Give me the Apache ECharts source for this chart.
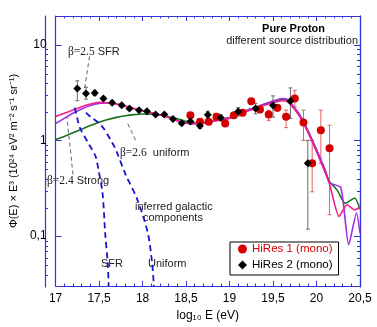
<!DOCTYPE html>
<html>
<head>
<meta charset="utf-8">
<script src="https://cdn.jsdelivr.net/npm/echarts@6/dist/echarts.min.js"></script>
<style>
  html, body { margin: 0; padding: 0; background: #fff; }
  #chart { width: 377px; height: 327px; }
</style>
</head>
<body>
<div id="chart"></div>
<script>
// ---- data (log10 E in eV, flux x E^3 in 10^24 eV^2 m^-2 s^-1 sr^-1) ----

// HiRes 1 (mono) - red circles
const hires1E = [18.55, 18.66, 18.76, 18.85, 18.95, 19.05, 19.15, 19.25, 19.35, 19.45, 19.55, 19.65, 19.75, 19.85, 19.95, 20.05, 20.15];
const hires1V = [1.83, 1.57, 1.57, 1.77, 1.50, 1.83, 1.95, 2.57, 2.10, 1.87, 2.19, 1.77, 2.74, 1.54, 0.576, 1.28, 0.826];
const hires1Lo = [1.74, 1.49, 1.49, 1.68, 1.42, 1.74, 1.84, 2.40, 1.95, 1.62, 2.02, 1.36, 2.24, 1.00, 0.29, 0.576, 0.167];
const hires1Hi = [1.92, 1.65, 1.65, 1.86, 1.58, 1.92, 2.06, 2.74, 2.25, 2.07, 2.36, 2.07, 3.34, 2.07, 1.00, 2.07, 1.44];

// HiRes 2 (mono) - black diamonds
const hires2E = [17.25, 17.35, 17.45, 17.55, 17.65, 17.76, 17.85, 17.96, 18.05, 18.15, 18.25, 18.35, 18.45, 18.55, 18.66, 18.75, 18.90, 19.10, 19.30, 19.50, 19.70, 19.90];
const hires2V = [3.48, 3.09, 3.14, 2.74, 2.47, 2.33, 2.15, 2.07, 2.02, 1.87, 1.87, 1.67, 1.51, 1.58, 1.42, 1.86, 1.72, 2.00, 2.15, 2.32, 2.59, 0.576];
const hires2Lo = [2.60, 2.70, 2.95, 2.62, 2.37, 2.24, 2.07, 1.99, 1.94, 1.80, 1.80, 1.60, 1.45, 1.52, 1.33, 1.72, 1.60, 1.80, 1.90, 1.75, 1.70, 0.118];
const hires2Hi = [4.20, 3.60, 3.35, 2.86, 2.57, 2.42, 2.23, 2.15, 2.10, 1.94, 1.94, 1.74, 1.57, 1.64, 1.52, 2.02, 1.85, 2.20, 2.45, 2.92, 3.54, 1.00];

// model curves
const sfrE = [17.0, 17.1, 17.2, 17.3, 17.4, 17.5, 17.6, 17.7, 17.8, 17.9, 18.0, 18.1, 18.2, 18.3, 18.4, 18.5, 18.6, 18.7, 18.8, 18.9, 19.0, 19.1, 19.2, 19.3, 19.4, 19.5, 19.6, 19.65, 19.7, 19.8, 19.9, 20.0, 20.1, 20.15, 20.26, 20.35, 20.44, 20.5];
const sfrV = [1.78, 1.92, 2.08, 2.25, 2.40, 2.50, 2.48, 2.40, 2.28, 2.15, 2.04, 1.94, 1.85, 1.74, 1.60, 1.51, 1.49, 1.52, 1.58, 1.64, 1.70, 1.86, 2.02, 2.16, 2.33, 2.48, 2.60, 2.58, 2.38, 1.82, 1.22, 0.76, 0.46, 0.35, 0.16, 0.212, 0.188, 0.20];

const strongE = [17.0, 17.1, 17.2, 17.3, 17.4, 17.5, 17.6, 17.7, 17.8, 17.9, 18.0, 18.1, 18.2, 18.3, 18.4, 18.5, 18.6, 18.7, 18.8, 18.9, 19.0, 19.1, 19.2, 19.3, 19.4, 19.5, 19.6, 19.65, 19.7, 19.8, 19.9, 20.0, 20.1, 20.15, 20.28, 20.37, 20.46, 20.5];
const strongV = [1.50, 1.70, 1.92, 2.13, 2.32, 2.44, 2.46, 2.40, 2.29, 2.16, 2.05, 1.95, 1.85, 1.74, 1.61, 1.52, 1.50, 1.53, 1.60, 1.66, 1.73, 1.90, 2.07, 2.22, 2.40, 2.58, 2.74, 2.72, 2.48, 1.90, 1.28, 0.80, 0.49, 0.36, 0.32, 0.081, 0.174, 0.107];

const uniformE = [17.0, 17.1, 17.2, 17.3, 17.4, 17.5, 17.6, 17.7, 17.8, 17.9, 18.0, 18.1, 18.2, 18.3, 18.4, 18.5, 18.6, 18.7, 18.8, 18.9, 19.0, 19.1, 19.2, 19.3, 19.4, 19.5, 19.6, 19.65, 19.7, 19.8, 19.9, 20.0, 20.1, 20.15, 20.24, 20.33, 20.44, 20.5];
const uniformV = [1.02, 1.10, 1.20, 1.31, 1.43, 1.55, 1.65, 1.74, 1.81, 1.86, 1.89, 1.88, 1.84, 1.77, 1.68, 1.58, 1.53, 1.54, 1.60, 1.66, 1.72, 1.88, 2.05, 2.20, 2.38, 2.55, 2.68, 2.66, 2.44, 1.86, 1.26, 0.79, 0.48, 0.37, 0.30, 0.22, 0.25, 0.19];

// inferred galactic components (blue dashed)
const galSfrE = [17.22, 17.25, 17.28, 17.39, 17.46, 17.49, 17.54, 17.57, 17.60, 17.61];
const galSfrV = [2.20, 1.70, 1.35, 0.89, 0.68, 0.51, 0.28, 0.107, 0.052, 0.03];
const galUniE = [17.35, 17.39, 17.53, 17.65, 17.70, 17.80, 17.94, 18.06, 18.11, 18.13];
const galUniV = [1.95, 1.80, 1.42, 0.95, 0.77, 0.45, 0.24, 0.108, 0.052, 0.03];

// annotation leader lines
const leadSfrE = [17.39, 17.33];
const leadSfrV = [7.55, 3.3];
const leadStrongE = [17.20, 17.13];
const leadStrongV = [0.44, 1.76];
const leadUniE = [17.83, 17.93];
const leadUniV = [1.49, 0.96];

// axes
const xMin = 17, xMax = 20.5;
const yMin = 0.03, yMax = 20;
const yTickValues = [0.1, 1, 10];
const yTickLabels = ['0,1', '1', '10'];

// ---- helpers ----
const lg = (v) => Math.log10(v);
const pairs = (xs, ys) => xs.map((x, i) => [x, lg(ys[i])]);
const errRows = (xs, lo, hi) => xs.map((x, i) => [x, lg(lo[i]), lg(hi[i])]);

const yMinorTicks = [];
for (let d = -2; d <= 1; d++) {
  for (let k = 2; k <= 9; k++) {
    const v = k * Math.pow(10, d);
    if (v > yMin && v < yMax) yMinorTicks.push(lg(v));
  }
}

const AXIS_BLUE = '#3434d8';
const FONT = 'Liberation Sans, Arial, Helvetica, sans-serif';
const SERIF = 'Liberation Serif, Times New Roman, serif';
const GRID = { left: 45, right: 17, top: 16, bottom: 40 };

const chart = echarts.init(document.getElementById('chart'));

function errBar(color) {
  return function (params, api) {
    const x = api.value(0);
    const top = api.coord([x, api.value(2)]);
    const bot = api.coord([x, api.value(1)]);
    const st = { stroke: color, lineWidth: 1 };
    return {
      type: 'group',
      children: [
        { type: 'line', shape: { x1: top[0], y1: top[1], x2: bot[0], y2: bot[1] }, style: st },
        { type: 'line', shape: { x1: top[0] - 2, y1: top[1], x2: top[0] + 2, y2: top[1] }, style: st },
        { type: 'line', shape: { x1: bot[0] - 2, y1: bot[1], x2: bot[0] + 2, y2: bot[1] }, style: st },
      ],
    };
  };
}

const baseX = {
  type: 'value',
  gridIndex: 0,
  min: xMin,
  max: xMax,
  interval: 0.5,
  splitLine: { show: false },
  axisLine: { show: true, onZero: false, lineStyle: { color: AXIS_BLUE, width: 1.2 } },
  axisTick: { show: true, inside: true, length: 5, lineStyle: { color: AXIS_BLUE } },
  minorTick: { show: true, splitNumber: 5, length: 2.5, lineStyle: { color: AXIS_BLUE } },
};

const baseY = {
  type: 'value',
  gridIndex: 0,
  min: lg(yMin),
  max: lg(yMax),
  splitLine: { show: false },
  axisLine: { show: true, onZero: false, lineStyle: { color: AXIS_BLUE, width: 1.2 } },
  axisLabel: { show: false },
};

// major ticks on grid 0, minor ticks on an identical overlay grid 1
function yAxes(gridIndex, ticks, len, withLabel) {
  const left = Object.assign({}, baseY, {
    gridIndex: gridIndex,
    position: 'left',
    axisTick: { show: true, inside: true, length: len, customValues: ticks, lineStyle: { color: AXIS_BLUE } },
  });
  if (withLabel) {
    Object.assign(left, {
      name: 'Φ(E) × E³ (10²⁴ eV² m⁻² s⁻¹ sr⁻¹)',
      nameLocation: 'middle',
      nameGap: 24,
      nameTextStyle: { color: '#000', fontSize: 11, fontFamily: FONT },
      axisLabel: {
        show: true, color: '#000', fontSize: 12, fontFamily: FONT, margin: 9,
        customValues: yTickValues.map(lg),
        formatter: (v) => {
          const i = yTickValues.findIndex((t) => Math.abs(lg(t) - v) < 1e-6);
          return i >= 0 ? yTickLabels[i] : '';
        },
      },
    });
  }
  const right = Object.assign({}, baseY, {
    gridIndex: gridIndex,
    position: 'right',
    axisTick: { show: true, inside: true, length: len, customValues: ticks, lineStyle: { color: AXIS_BLUE } },
  });
  return [left, right];
}

const option = {
  animation: false,
  backgroundColor: '#fff',
  grid: [Object.assign({}, GRID), Object.assign({}, GRID)],
  xAxis: [
    Object.assign({}, baseX, {
      position: 'bottom',
      name: 'log₁₀ E (eV)',
      nameLocation: 'middle',
      nameGap: 24,
      nameTextStyle: { color: '#000', fontSize: 12, fontFamily: FONT },
      axisLabel: {
        color: '#000', fontSize: 12, fontFamily: FONT, margin: 7,
        formatter: (v) => String(v).replace('.', ','),
      },
    }),
    Object.assign({}, baseX, { position: 'top', axisLabel: { show: false } }),
    { type: 'value', gridIndex: 1, min: xMin, max: xMax, show: false },
  ],
  yAxis: [].concat(
    yAxes(0, yTickValues.map(lg), 6, true),
    yAxes(1, yMinorTicks, 3, false)
  ),
  legend: {
    orient: 'vertical',
    left: 230,
    top: 242,
    backgroundColor: '#fff',
    borderColor: '#000',
    borderWidth: 1,
    padding: [1, 6, 4, 8],
    itemGap: 4,
    itemWidth: 9,
    itemHeight: 9,
    textStyle: { fontSize: 11.5, fontFamily: FONT, color: '#000' },
    data: [
      { name: 'HiRes 1 (mono)', icon: 'circle', textStyle: { color: '#d40000' } },
      { name: 'HiRes 2 (mono)', icon: 'diamond' },
    ],
  },
  series: [
    { name: 'uniform', type: 'line', showSymbol: false, smooth: 0.2, data: pairs(uniformE, uniformV),
      lineStyle: { color: '#16731c', width: 1.6 }, itemStyle: { color: '#16731c' } },
    { name: 'strong', type: 'line', showSymbol: false, smooth: 0.2, data: pairs(strongE, strongV),
      lineStyle: { color: '#a12ee0', width: 1.6 }, itemStyle: { color: '#a12ee0' } },
    { name: 'sfr', type: 'line', showSymbol: false, smooth: 0.2, data: pairs(sfrE, sfrV),
      lineStyle: { color: '#f0208e', width: 1.6 }, itemStyle: { color: '#f0208e' } },
    { name: 'gal SFR', type: 'line', showSymbol: false, smooth: 0.3, data: pairs(galSfrE, galSfrV),
      lineStyle: { color: '#1616d0', width: 1.8, type: [6, 4] } },
    { name: 'gal Uniform', type: 'line', showSymbol: false, smooth: 0.3, data: pairs(galUniE, galUniV),
      lineStyle: { color: '#1616d0', width: 1.8, type: [6, 4] } },
    { type: 'line', showSymbol: false, data: pairs(leadSfrE, leadSfrV),
      lineStyle: { color: '#222', width: 0.7, type: [4, 3] } },
    { type: 'line', showSymbol: false, data: pairs(leadStrongE, leadStrongV),
      lineStyle: { color: '#222', width: 0.7, type: [4, 3] } },
    { type: 'line', showSymbol: false, data: pairs(leadUniE, leadUniV),
      lineStyle: { color: '#222', width: 0.7, type: [4, 3] } },
    { type: 'custom', renderItem: errBar('#e46060'), data: errRows(hires1E, hires1Lo, hires1Hi), z: 3 },
    { type: 'custom', renderItem: errBar('#6a6a6a'), data: errRows(hires2E, hires2Lo, hires2Hi), z: 3 },
    { name: 'HiRes 1 (mono)', type: 'scatter', symbol: 'circle', symbolSize: 8, data: pairs(hires1E, hires1V),
      itemStyle: { color: '#d40000', opacity: 1 }, z: 4 },
    { name: 'HiRes 2 (mono)', type: 'scatter', symbol: 'diamond', symbolSize: 8, data: pairs(hires2E, hires2V),
      itemStyle: { color: '#000', opacity: 1 }, z: 4 },
  ],
  graphic: [
    { type: 'text', left: 68, top: 46, style: { text: '{g|β=2.5} SFR', fill: '#222', font: '11px ' + FONT,
      rich: { g: { fontFamily: SERIF, fontSize: 11.5, fill: '#222' } } } },
    { type: 'text', left: 120, top: 147, style: { text: '{g|β=2.6}  uniform', fill: '#222', font: '11px ' + FONT,
      rich: { g: { fontFamily: SERIF, fontSize: 11.5, fill: '#222' } } } },
    { type: 'text', left: 47, top: 175, style: { text: '{g|β=2.4} Strong', fill: '#222', font: '11px ' + FONT,
      rich: { g: { fontFamily: SERIF, fontSize: 11.5, fill: '#222' } } } },
    { type: 'text', left: 135, top: 201, style: { text: 'inferred galactic', fill: '#222', font: '11px ' + FONT } },
    { type: 'text', left: 143, top: 212, style: { text: 'components', fill: '#222', font: '11px ' + FONT } },
    { type: 'text', left: 101, top: 258, style: { text: 'SFR', fill: '#222', font: '11px ' + FONT } },
    { type: 'text', left: 148, top: 258, style: { text: 'Uniform', fill: '#222', font: '11px ' + FONT } },
    { type: 'text', right: 52, top: 23, style: { text: 'Pure Proton', fill: '#000', font: 'bold 11px ' + FONT } },
    { type: 'text', right: 19, top: 35, style: { text: 'different source distribution', fill: '#222', font: '11px ' + FONT } },
  ],
};

chart.setOption(option);
</script>
</body>
</html>
